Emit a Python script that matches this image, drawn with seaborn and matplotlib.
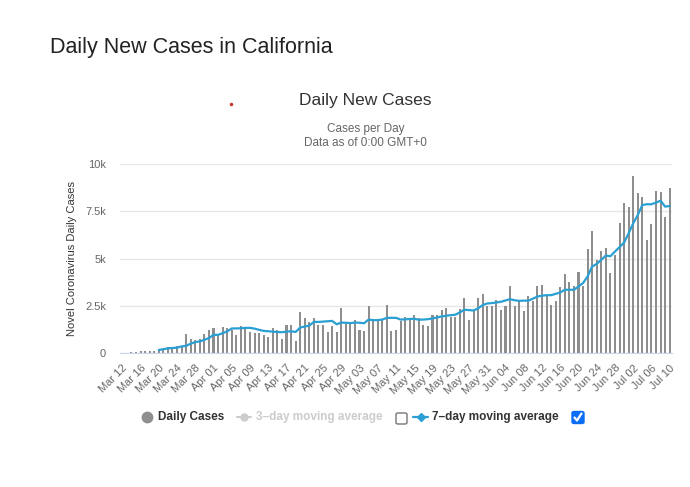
import pandas as pd
import matplotlib.pyplot as plt
import seaborn as sns
from matplotlib.lines import Line2D
from matplotlib.patches import FancyBboxPatch

# Daily new cases in California, Mar 12 - Jul 10
daily_cases = [
    20, 20, 70, 30, 100, 100, 100, 100, 160, 160,
    330, 330, 370, 385, 1000, 735, 700, 735, 1000, 1240,
    1300, 1000, 1365, 1310, 1240, 945, 1420, 1350, 1085, 1050,
    1050, 930, 870, 1345, 1240, 725, 1505, 1505, 640, 2195,
    1875, 1630, 1875, 1470, 1485, 1100, 1415, 1115, 2355, 1540,
    1560, 1770, 1205, 1185, 2480, 1825, 1735, 1770, 2550, 1150,
    1205, 1700, 1910, 1770, 1990, 1850, 1495, 1410, 2025, 2025,
    2290, 2375, 1900, 1900, 2325, 2885, 1760, 2235, 2885, 3115,
    2500, 2500, 2780, 2290, 2500, 3540, 2500, 2730, 2235, 3030,
    2765, 3540, 3590, 3080, 2550, 2730, 3480, 4170, 3750, 3520,
    4310, 3555, 5490, 6480, 4930, 5400, 5580, 4225, 5175, 6865,
    7920, 7710, 9380, 8480, 8270, 5985, 6830, 8570, 8520, 7215,
    8710,
]

# 7-day moving average as drawn (starts on Mar 20)
avg_7day = [
    None, None, None, None, None, None, None, None, 160, 200,
    245, 265, 280, 350, 380, 490, 580, 610, 700, 790,
    960, 960, 1050, 1140, 1300, 1300, 1310, 1330, 1330, 1290,
    1225, 1170, 1150, 1130, 1110, 1100, 1130, 1150, 1115, 1345,
    1400, 1450, 1645, 1645, 1660, 1680, 1700, 1520, 1610, 1600,
    1580, 1610, 1600, 1575, 1770, 1735, 1740, 1770, 1860, 1860,
    1860, 1770, 1780, 1800, 1810, 1760, 1770, 1790, 1830, 1880,
    1935, 1970, 2000, 2025, 2150, 2290, 2270, 2250, 2360, 2535,
    2620, 2640, 2675, 2710, 2780, 2850, 2790, 2760, 2770, 2770,
    2870, 2990, 3030, 3060, 3060, 3130, 3200, 3345, 3345, 3345,
    3520, 3700, 4050, 4575, 4715, 4930, 5155, 5120, 5370, 5600,
    5845, 6335, 6865, 7300, 7830, 7870, 7870, 7955, 8060, 7745,
    7780,
]

tick_labels = [
    "Mar 12", "Mar 16", "Mar 20", "Mar 24", "Mar 28", "Apr 01", "Apr 05",
    "Apr 09", "Apr 13", "Apr 17", "Apr 21", "Apr 25", "Apr 29", "May 03",
    "May 07", "May 11", "May 15", "May 19", "May 23", "May 27", "May 31",
    "Jun 04", "Jun 08", "Jun 12", "Jun 16", "Jun 20", "Jun 24", "Jun 28",
    "Jul 02", "Jul 06", "Jul 10",
]

y_ticks = [0, 2500, 5000, 7500, 10000]
y_tick_labels = ["0", "2.5k", "5k", "7.5k", "10k"]

BAR_COLOR = "#8e8e8e"
LINE_COLOR = "#2a9fd4"
W, H = 690, 487


def fxy(x, y):
    # pixel position -> figure fraction
    return x / W, 1 - y / H


sns.set_style("white")
plt.rcParams["font.family"] = ["Liberation Sans", "DejaVu Sans"]

df = pd.DataFrame({
    "day": range(len(daily_cases)),
    "cases": daily_cases,
    "avg": pd.array(avg_7day, dtype="Float64").astype(float),
})

fig = plt.figure(figsize=(6.9, 4.87), dpi=100)
ax = fig.add_axes([120 / W, 1 - 353 / H, 552 / W, 189 / H])

sns.barplot(data=df, x="day", y="cases", color=BAR_COLOR, width=0.45,
            saturation=1, edgecolor="none", ax=ax)
sns.lineplot(data=df, x="day", y="avg", color=LINE_COLOR, linewidth=1.6, ax=ax)

ax.set_xlim(-0.5, len(daily_cases) - 0.5)
ax.set_ylim(0, 10000)
ax.set_yticks(y_ticks)
ax.set_yticklabels(y_tick_labels)
ax.set_xticks(range(0, len(daily_cases), 4))
ax.set_xticklabels(tick_labels, rotation=45, ha="right", rotation_mode="anchor")
ax.set_xticks([i - 0.5 for i in range(len(daily_cases) + 1)], minor=True)
ax.tick_params(axis="x", which="major", length=0, pad=7, labelsize=8, labelcolor="#666666")
ax.tick_params(axis="x", which="minor", length=4, width=0.8, color="#ccd6eb")
ax.tick_params(axis="y", length=0, pad=10, labelsize=8, labelcolor="#666666")
ax.grid(axis="y", color="#e6e6e6", linewidth=1)
ax.set_axisbelow(True)
for side in ["top", "left", "right"]:
    ax.spines[side].set_visible(False)
ax.spines["bottom"].set_color("#ccd6eb")
ax.set_xlabel("")
ax.set_ylabel("Novel Coronavirus Daily Cases", fontsize=8, color="#333333", labelpad=5.5)

# page heading and chart titles
fig.text(*fxy(50, 48), "Daily New Cases in California", fontsize=15.5,
         color="#222222", va="center", ha="left")
fig.text(*fxy(365, 101), "Daily New Cases", fontsize=12.5, color="#333333",
         va="center", ha="center")
fig.text(*fxy(366, 129), "Cases per Day", fontsize=8.5, color="#666666",
         va="center", ha="center")
fig.text(*fxy(365, 143), "Data as of 0:00 GMT+0", fontsize=8.5, color="#666666",
         va="center", ha="center")
fig.add_artist(Line2D([231 / W], [1 - 104 / H], marker="o", markersize=1.5,
                      color="#c0392b", linestyle="none"))

# legend row
ly = 1 - 417 / H
fig.add_artist(Line2D([147 / W], [ly], marker="o", markersize=7.5,
                      color=BAR_COLOR, linestyle="none"))
fig.text(158 / W, ly, "Daily Cases", fontsize=8.5, fontweight="bold",
         color="#333333", va="center")
fig.add_artist(Line2D([237 / W, 251 / W], [ly, ly], color="#cccccc", linewidth=1.5))
fig.add_artist(Line2D([244 / W], [ly], marker="o", markersize=5,
                      color="#cccccc", linestyle="none"))
fig.text(256 / W, ly, "3\u2013day moving average", fontsize=8.5, fontweight="bold",
         color="#cccccc", va="center")
fig.add_artist(FancyBboxPatch((396 / W, 1 - 424 / H), 11 / W, 11 / H,
                              boxstyle="round,pad=0,rounding_size=0.003",
                              facecolor="white", edgecolor="#767676", linewidth=1))
fig.add_artist(Line2D([413 / W, 428 / W], [ly, ly], color=LINE_COLOR, linewidth=1.6))
fig.add_artist(Line2D([420.5 / W], [ly], marker="D", markersize=4.5,
                      color=LINE_COLOR, linestyle="none"))
fig.text(432 / W, ly, "7\u2013day moving average", fontsize=8.5, fontweight="bold",
         color="#333333", va="center")
fig.add_artist(FancyBboxPatch((572 / W, 1 - 423.5 / H), 12 / W, 12 / H,
                              boxstyle="round,pad=0,rounding_size=0.003",
                              facecolor="#0b6cf5", edgecolor="#0b6cf5", linewidth=1))
fig.add_artist(Line2D([574.5 / W, 577 / W, 581.5 / W],
                      [1 - 417.5 / H, 1 - 420.5 / H, 1 - 413.5 / H],
                      color="white", linewidth=1.6))

fig.savefig("out.png", dpi=100)
